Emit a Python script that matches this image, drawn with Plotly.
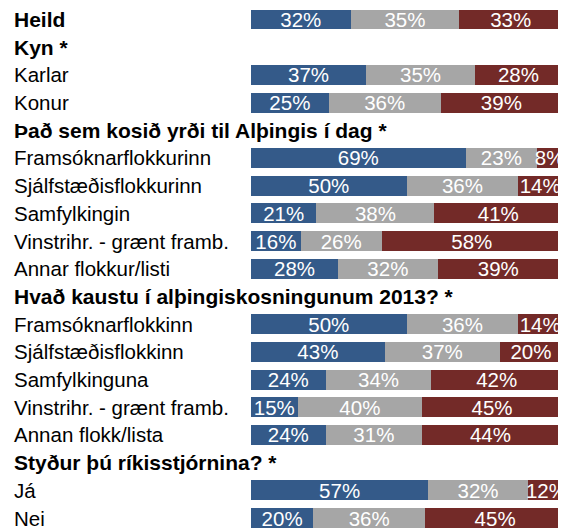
import plotly.graph_objects as go

# Rows from top to bottom (first row is a header cut off at the top of the image)
labels = [
    "Viðhorf og ánægja",
    "Heild",
    "Kyn *",
    "Karlar",
    "Konur",
    "Það sem kosið yrði til Alþingis í dag *",
    "Framsóknarflokkurinn",
    "Sjálfstæðisflokkurinn",
    "Samfylkingin",
    "Vinstrihr. - grænt framb.",
    "Annar flokkur/listi",
    "Hvað kaustu í alþingiskosningunum 2013? *",
    "Framsóknarflokkinn",
    "Sjálfstæðisflokkinn",
    "Samfylkinguna",
    "Vinstrihr. - grænt framb.",
    "Annan flokk/lista",
    "Styður þú ríkisstjórnina? *",
    "Já",
    "Nei",
]
bold_rows = [True, True, True, False, False, True, False, False, False, False, False,
             True, False, False, False, False, False, True, False, False]

blue_vals = [None, 32, None, 37, 25, None, 69, 50, 21, 16, 28, None, 50, 43, 24, 15, 24, None, 57, 20]
grey_vals = [None, 35, None, 35, 36, None, 23, 36, 38, 26, 32, None, 36, 37, 34, 40, 31, None, 32, 36]
red_vals  = [None, 33, None, 28, 39, None, 8, 14, 41, 58, 39, None, 14, 20, 42, 45, 44, None, 12, 45]

series = [
    (blue_vals, "#345a89"),
    (grey_vals, "#a6a6a6"),
    (red_vals, "#732a28"),
]

FONT = "Arial, Liberation Sans, sans-serif"

idx = list(range(len(labels)))
fig = go.Figure()
for vals, color in series:
    fig.add_trace(go.Bar(
        y=idx,
        x=vals,
        orientation="h",
        marker=dict(color=color, line=dict(width=0)),
        width=0.72,
        text=[f"{v}%" if v is not None else "" for v in vals],
        textposition="inside",
        insidetextanchor="middle",
        textfont=dict(color="white", size=20.5, family=FONT),
        showlegend=False,
        hoverinfo="skip",
    ))

# page is drawn with an 8px body margin; compensate
OFF = 8
W, H = 566 - OFF, 529 - OFF
L, R = 251 - OFF, 4
plot_w = W - L - R

annotations = []
for i, (lab, b) in enumerate(zip(labels, bold_rows)):
    annotations.append(dict(
        x=(12 - OFF - L) / plot_w, xref="paper", xanchor="left",
        y=i, yref="y", yanchor="middle",
        text=f"<b>{lab}</b>" if b else lab,
        showarrow=False,
        font=dict(size=21 if b else 20.5, color="black", family=FONT),
    ))

pitch = (518 - 19.5) / 18
y0 = (19.5 - OFF) - pitch  # pixel center of row 0 within the figure
top_idx = (0 - y0) / pitch
bot_idx = (H - y0) / pitch

fig.update_layout(
    width=W, height=H,
    margin=dict(l=L, r=R, t=0, b=0, pad=0),
    barmode="stack",
    plot_bgcolor="white",
    paper_bgcolor="white",
    uniformtext=dict(minsize=20.5, mode="show"),
    xaxis=dict(range=[0, 100], visible=False, fixedrange=True),
    yaxis=dict(range=[bot_idx, top_idx], visible=False, fixedrange=True),
    annotations=annotations,
)

fig.write_html("out.html")
